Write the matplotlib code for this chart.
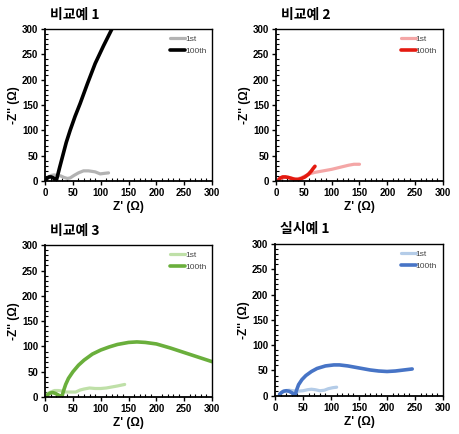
import matplotlib
matplotlib.use("Agg")
import matplotlib.pyplot as plt
from matplotlib.ticker import MultipleLocator

plt.rcParams['font.family'] = ['Liberation Sans', 'Noto Sans CJK KR', 'DejaVu Sans']

titles = ["비교예 1", "비교예 2", "비교예 3", "실시예 1"]
series_names = ["1st", "100th"]

# Panel 1 (비교예 1)
p1_1st_x = [2, 6, 11, 16, 22, 28, 34, 40, 45, 52, 60, 69, 78, 90, 99, 106, 114]
p1_1st_y = [2, 7, 11, 12, 11, 10, 7, 5, 6, 11, 16, 20, 20, 18, 14, 15, 16]
p1_100_x = [0, 3, 7, 11, 15, 18, 20, 26, 32, 38, 45, 54, 63, 76, 90, 105, 120]
p1_100_y = [0, 5, 8, 8, 6, 2, 0, 26, 51, 76, 100, 128, 153, 192, 232, 267, 300]

# Panel 2 (비교예 2)
p2_1st_x = [5, 10, 15, 22, 30, 38, 45, 52, 60, 70, 85, 100, 115, 130, 140, 150]
p2_1st_y = [2, 5, 7, 7, 5, 4, 6, 10, 14, 17, 20, 23, 27, 31, 33, 33]
p2_100_x = [5, 8, 12, 17, 22, 28, 34, 40, 46, 52, 58, 63, 67, 70]
p2_100_y = [3, 6, 8, 8, 7, 5, 3, 3, 5, 8, 13, 19, 25, 29]

# Panel 3 (비교예 3)
p3_1st_x = [0, 5, 10, 17, 24, 30, 38, 46, 55, 63, 70, 80, 90, 100, 110, 120, 130, 143]
p3_1st_y = [3, 7, 10, 13, 13, 12, 10, 10, 10, 14, 16, 18, 17, 17, 18, 20, 22, 25]
p3_100_x = [2, 5, 9, 14, 19, 24, 28, 30, 33, 37, 42, 50, 60, 70, 85, 100, 115, 130,
            150, 165, 180, 200, 225, 250, 275, 300]
p3_100_y = [0, 5, 8, 9, 7, 4, 1, 0, 12, 25, 37, 50, 63, 73, 85, 93, 99, 104,
            108, 109, 108, 105, 97, 88, 79, 70]

# Panel 4 (실시예 1)
p4_1st_x = [8, 12, 18, 25, 32, 40, 50, 58, 65, 72, 80, 88, 95, 103, 110]
p4_1st_y = [3, 7, 10, 11, 10, 9, 10, 12, 13, 12, 10, 11, 14, 16, 17]
p4_100_x = [8, 11, 15, 20, 25, 30, 34, 36, 38, 42, 48, 55, 65, 75, 90, 105, 115,
            130, 150, 170, 185, 200, 215, 230, 245]
p4_100_y = [3, 6, 9, 10, 9, 6, 2, 1, 10, 22, 32, 40, 48, 54, 59, 61, 61,
            59, 55, 51, 49, 48, 49, 51, 53]

data = [
    (p1_1st_x, p1_1st_y, p1_100_x, p1_100_y, "#b3b3b3", "#000000"),
    (p2_1st_x, p2_1st_y, p2_100_x, p2_100_y, "#f4a6a6", "#e41a10"),
    (p3_1st_x, p3_1st_y, p3_100_x, p3_100_y, "#bfe0a8", "#6aaf3c"),
    (p4_1st_x, p4_1st_y, p4_100_x, p4_100_y, "#b4cce8", "#4774c6"),
]

positions = [
    [0.098, 0.583, 0.363, 0.350],
    [0.600, 0.583, 0.363, 0.350],
    [0.098, 0.085, 0.363, 0.350],
    [0.598, 0.088, 0.365, 0.350],
]

fig = plt.figure(figsize=(4.6, 4.34), dpi=100)
for i, (pos, d, title) in enumerate(zip(positions, data, titles)):
    ax = fig.add_axes(pos)
    x1, y1, x2, y2, c1, c2 = d
    ax.plot(x1, y1, color=c1, lw=2.3, label=series_names[0],
            solid_capstyle='round', solid_joinstyle='round')
    ax.plot(x2, y2, color=c2, lw=2.6, label=series_names[1],
            solid_capstyle='round', solid_joinstyle='round')
    ax.set_xlim(0, 300)
    ax.set_ylim(0, 300)
    ax.xaxis.set_major_locator(MultipleLocator(50))
    ax.yaxis.set_major_locator(MultipleLocator(50))
    ax.xaxis.set_minor_locator(MultipleLocator(10))
    ax.yaxis.set_minor_locator(MultipleLocator(10))
    ax.tick_params(which='major', direction='out', length=3, width=1, labelsize=7, pad=2)
    ax.tick_params(which='minor', direction='in', length=2, width=0.8)
    for lab in ax.get_xticklabels() + ax.get_yticklabels():
        lab.set_fontweight('bold')
    for sp in ax.spines.values():
        sp.set_linewidth(1.0)
        sp.set_color('black')
    ax.spines['bottom'].set_linewidth(1.3)
    ax.spines['left'].set_linewidth(1.3)
    ax.set_xlabel("Z' (Ω)", fontsize=8.5, fontweight='bold', labelpad=2)
    ax.set_ylabel("-Z'' (Ω)", fontsize=8.5, fontweight='bold', labelpad=1)
    ax.text(0.03, 1.05, title, transform=ax.transAxes, fontsize=10, fontweight='bold',
            family=['Noto Sans CJK KR', 'Liberation Sans'], ha='left', va='bottom')
    leg = ax.legend(loc='upper right', fontsize=6, frameon=False, handlelength=1.8,
                    handletextpad=0.0, borderaxespad=0.3, labelspacing=0.5)
    for t in leg.get_texts():
        t.set_color('#444444')

fig.savefig("out.png", dpi=100)
